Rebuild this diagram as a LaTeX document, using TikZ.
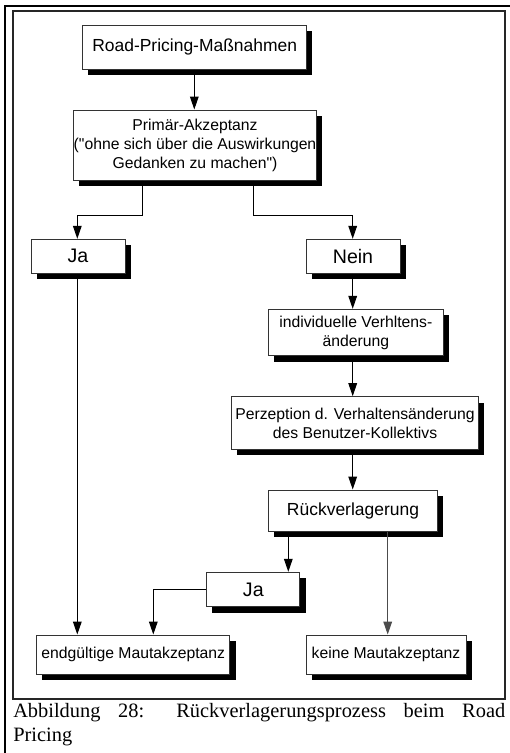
\documentclass[tikz,border=0pt]{standalone}
\usepackage{fontspec}
\setmainfont{Liberation Serif}
\setsansfont{Liberation Sans}[Ligatures=TeXOff]
\usetikzlibrary{arrows.meta,shadows}
\begin{document}
\begin{tikzpicture}[x=0.75pt,y=-0.75pt,
  flowbox/.style={draw=black!80, line width=0.75pt, fill=white, inner sep=0pt, align=center,
    drop shadow={shadow xshift=4.3pt, shadow yshift=-4.5pt, opacity=1, fill=black}},
  bigtext/.style={font=\sffamily\fontsize{13.1}{15}\selectfont},
  answertext/.style={font=\sffamily\fontsize{14.7}{16}\selectfont},
  smalltext/.style={font=\sffamily\fontsize{11.8}{14.25}\selectfont},
  link/.style={line width=0.75pt, -{Triangle[length=9.75pt,width=6.5pt]}},
]
\useasboundingbox (0,0) rectangle (510,753);

% page rules and figure frame
\draw[line width=1.5pt] (5,753) -- (5,6) -- (510,6);
\draw[line width=0.9pt, black!85] (13,11) rectangle (505,699);

% boxes
\node[flowbox, bigtext, minimum width=168pt, minimum height=33pt] (road) at (194.7,47) {Road-Pricing-Maßnahmen};
\node[flowbox, smalltext, minimum width=180pt, minimum height=52.5pt] (prim) at (195,145)
  {Primär-Akzeptanz\\("ohne sich über die Auswirkungen\\Gedanken zu machen")};
\node[flowbox, answertext, minimum width=70.5pt, minimum height=25.5pt] (ja1) at (78,256.3) {Ja};
\node[flowbox, answertext, minimum width=70.5pt, minimum height=25.5pt] (nein) at (353,256.3) {Nein};
\node[flowbox, smalltext, minimum width=131.25pt, minimum height=34.8pt] (indiv) at (355.8,332.5)
  {individuelle Verhltens-\\änderung};
\node[flowbox, smalltext, minimum width=185pt, minimum height=39.5pt] (perz) at (355,423)
  {Perzeption d. Verhaltensänderung\\des Benutzer-Kollektivs};
\node[flowbox, bigtext, minimum width=127pt, minimum height=30.75pt] (rueck) at (353,510.5) {Rückverlagerung};
\node[flowbox, answertext, minimum width=70pt, minimum height=25.8pt] (ja2) at (253.3,589.5) {Ja};
\node[flowbox, smalltext, minimum width=145pt, minimum height=29.5pt] (endg) at (133.3,654.7) {endgültige Mautakzeptanz};
\node[flowbox, smalltext, minimum width=120pt, minimum height=29.5pt] (keine) at (386,654.7) {keine Mautakzeptanz};

% routing points
\coordinate (splitL) at (142.7,215);
\coordinate (splitR) at (253.3,215);
\coordinate (topx) at (194.3,0);
\coordinate (mainx) at (352.7,0);
\coordinate (rjx) at (288.3,0);
\coordinate (kx) at (387.7,0);
\coordinate (ejx) at (153.3,0);
\coordinate (jx) at (77.3,0);

% connectors
\draw[link] (road.south -| topx) -- (prim.north -| topx);
\draw[link] (prim.south -| splitL) -- (splitL) -| (jx |- ja1.north);
\draw[link] (prim.south -| splitR) -- (splitR) -| (mainx |- nein.north);
\draw[link] (nein.south -| mainx) -- (indiv.north -| mainx);
\draw[link] (indiv.south -| mainx) -- (perz.north -| mainx);
\draw[link] (perz.south -| mainx) -- (rueck.north -| mainx);
\draw[link] (rueck.south -| rjx) -- (ja2.north -| rjx);
\draw[link, black!70] (rueck.south -| kx) -- (keine.north -| kx);
\draw[link] (ja2.west) -| (ejx |- endg.north);
\draw[link] (ja1.south -| jx) -- (endg.north -| jx);

% caption
\node[anchor=base west, inner sep=0pt, font=\rmfamily\fontsize{15.3}{18}\selectfont] (cap1) at (13,717)
  {\makebox[369pt][s]{Abbildung 28: Rückverlagerungsprozess beim Road}};
\node[anchor=base west, inner sep=0pt, font=\rmfamily\fontsize{15.3}{18}\selectfont] (cap2) at (13,741) {Pricing};
\end{tikzpicture}
\end{document}
